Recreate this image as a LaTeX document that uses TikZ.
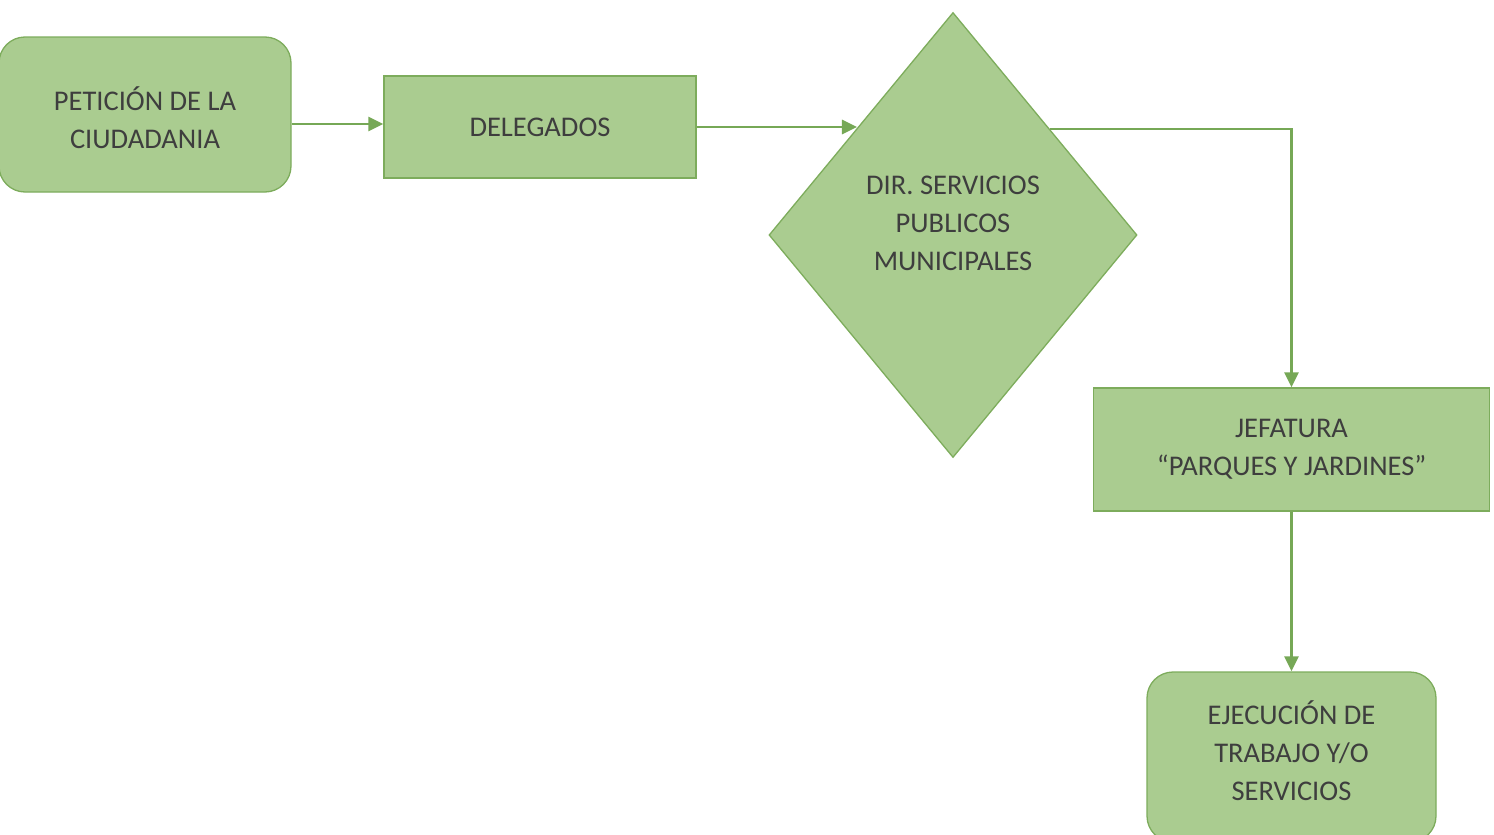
\documentclass[tikz,border=0pt]{standalone}
\usepackage{fontspec}
\setmainfont{Carlito}
\usetikzlibrary{shapes.geometric,arrows.meta,calc}
\definecolor{boxfill}{RGB}{170,204,144}
\definecolor{boxline}{RGB}{125,172,92}
\definecolor{arrowc}{RGB}{118,168,86}
\definecolor{txtc}{RGB}{62,62,62}
\tikzset{
  x=1pt, y=-1pt,
  base/.style={fill=boxfill, draw=boxline, line width=1.3pt, text=txtc, align=center,
    font=\fontsize{28.5}{38}\selectfont, inner sep=0pt},
  rbox/.style={base, rectangle, rounded corners=26pt},
  sbox/.style={base, rectangle},
  dbox/.style={base, diamond},
  lbl/.style={text=txtc, align=center, font=\fontsize{28.5}{38}\selectfont, inner sep=0pt},
  arr/.style={draw=arrowc, line width=2.8pt, -{Triangle[length=15pt,width=14pt]}}
}
\begin{document}
\begin{tikzpicture}
\useasboundingbox (0,0) rectangle (1494,835);
\node[rbox, minimum width=292pt, minimum height=155pt] (pet) at (145,114.5) {};
\node[lbl] (pett) at (145,118) {PETICIÓN DE LA\\CIUDADANIA};
\node[sbox, minimum width=312pt, minimum height=102pt] (del) at (540,127) {DELEGADOS};
\node[dbox, minimum width=368pt, minimum height=445pt] (dir) at (953,235) {};
\node[lbl] (dirt) at (953,223) {DIR. SERVICIOS\\PUBLICOS\\MUNICIPALES};
\node[sbox, minimum width=396pt, minimum height=123pt] (jef) at (1291.5,449.5) {JEFATURA\\“PARQUES Y JARDINES”};
\node[rbox, minimum width=289pt, minimum height=170pt] (eje) at (1291.5,757) {};
\node[lbl] (ejet) at (1291.5,751) {EJECUCIÓN DE\\TRABAJO Y/O\\SERVICIOS};
\coordinate (din) at ($(dir.west)!0.48!(dir.north)$);
\coordinate (dout) at ($(dir.east)!0.475!(dir.north)$);
\draw[arr] (pet.east |- 0,124) -- (del.west |- 0,124);
\draw[arr] (del.east) -- (del.east -| din);
\draw[arr] (dout) -- (dout -| jef.north) -- (jef.north);
\draw[arr] (jef.south) -- (eje.north);
\end{tikzpicture}
\end{document}
